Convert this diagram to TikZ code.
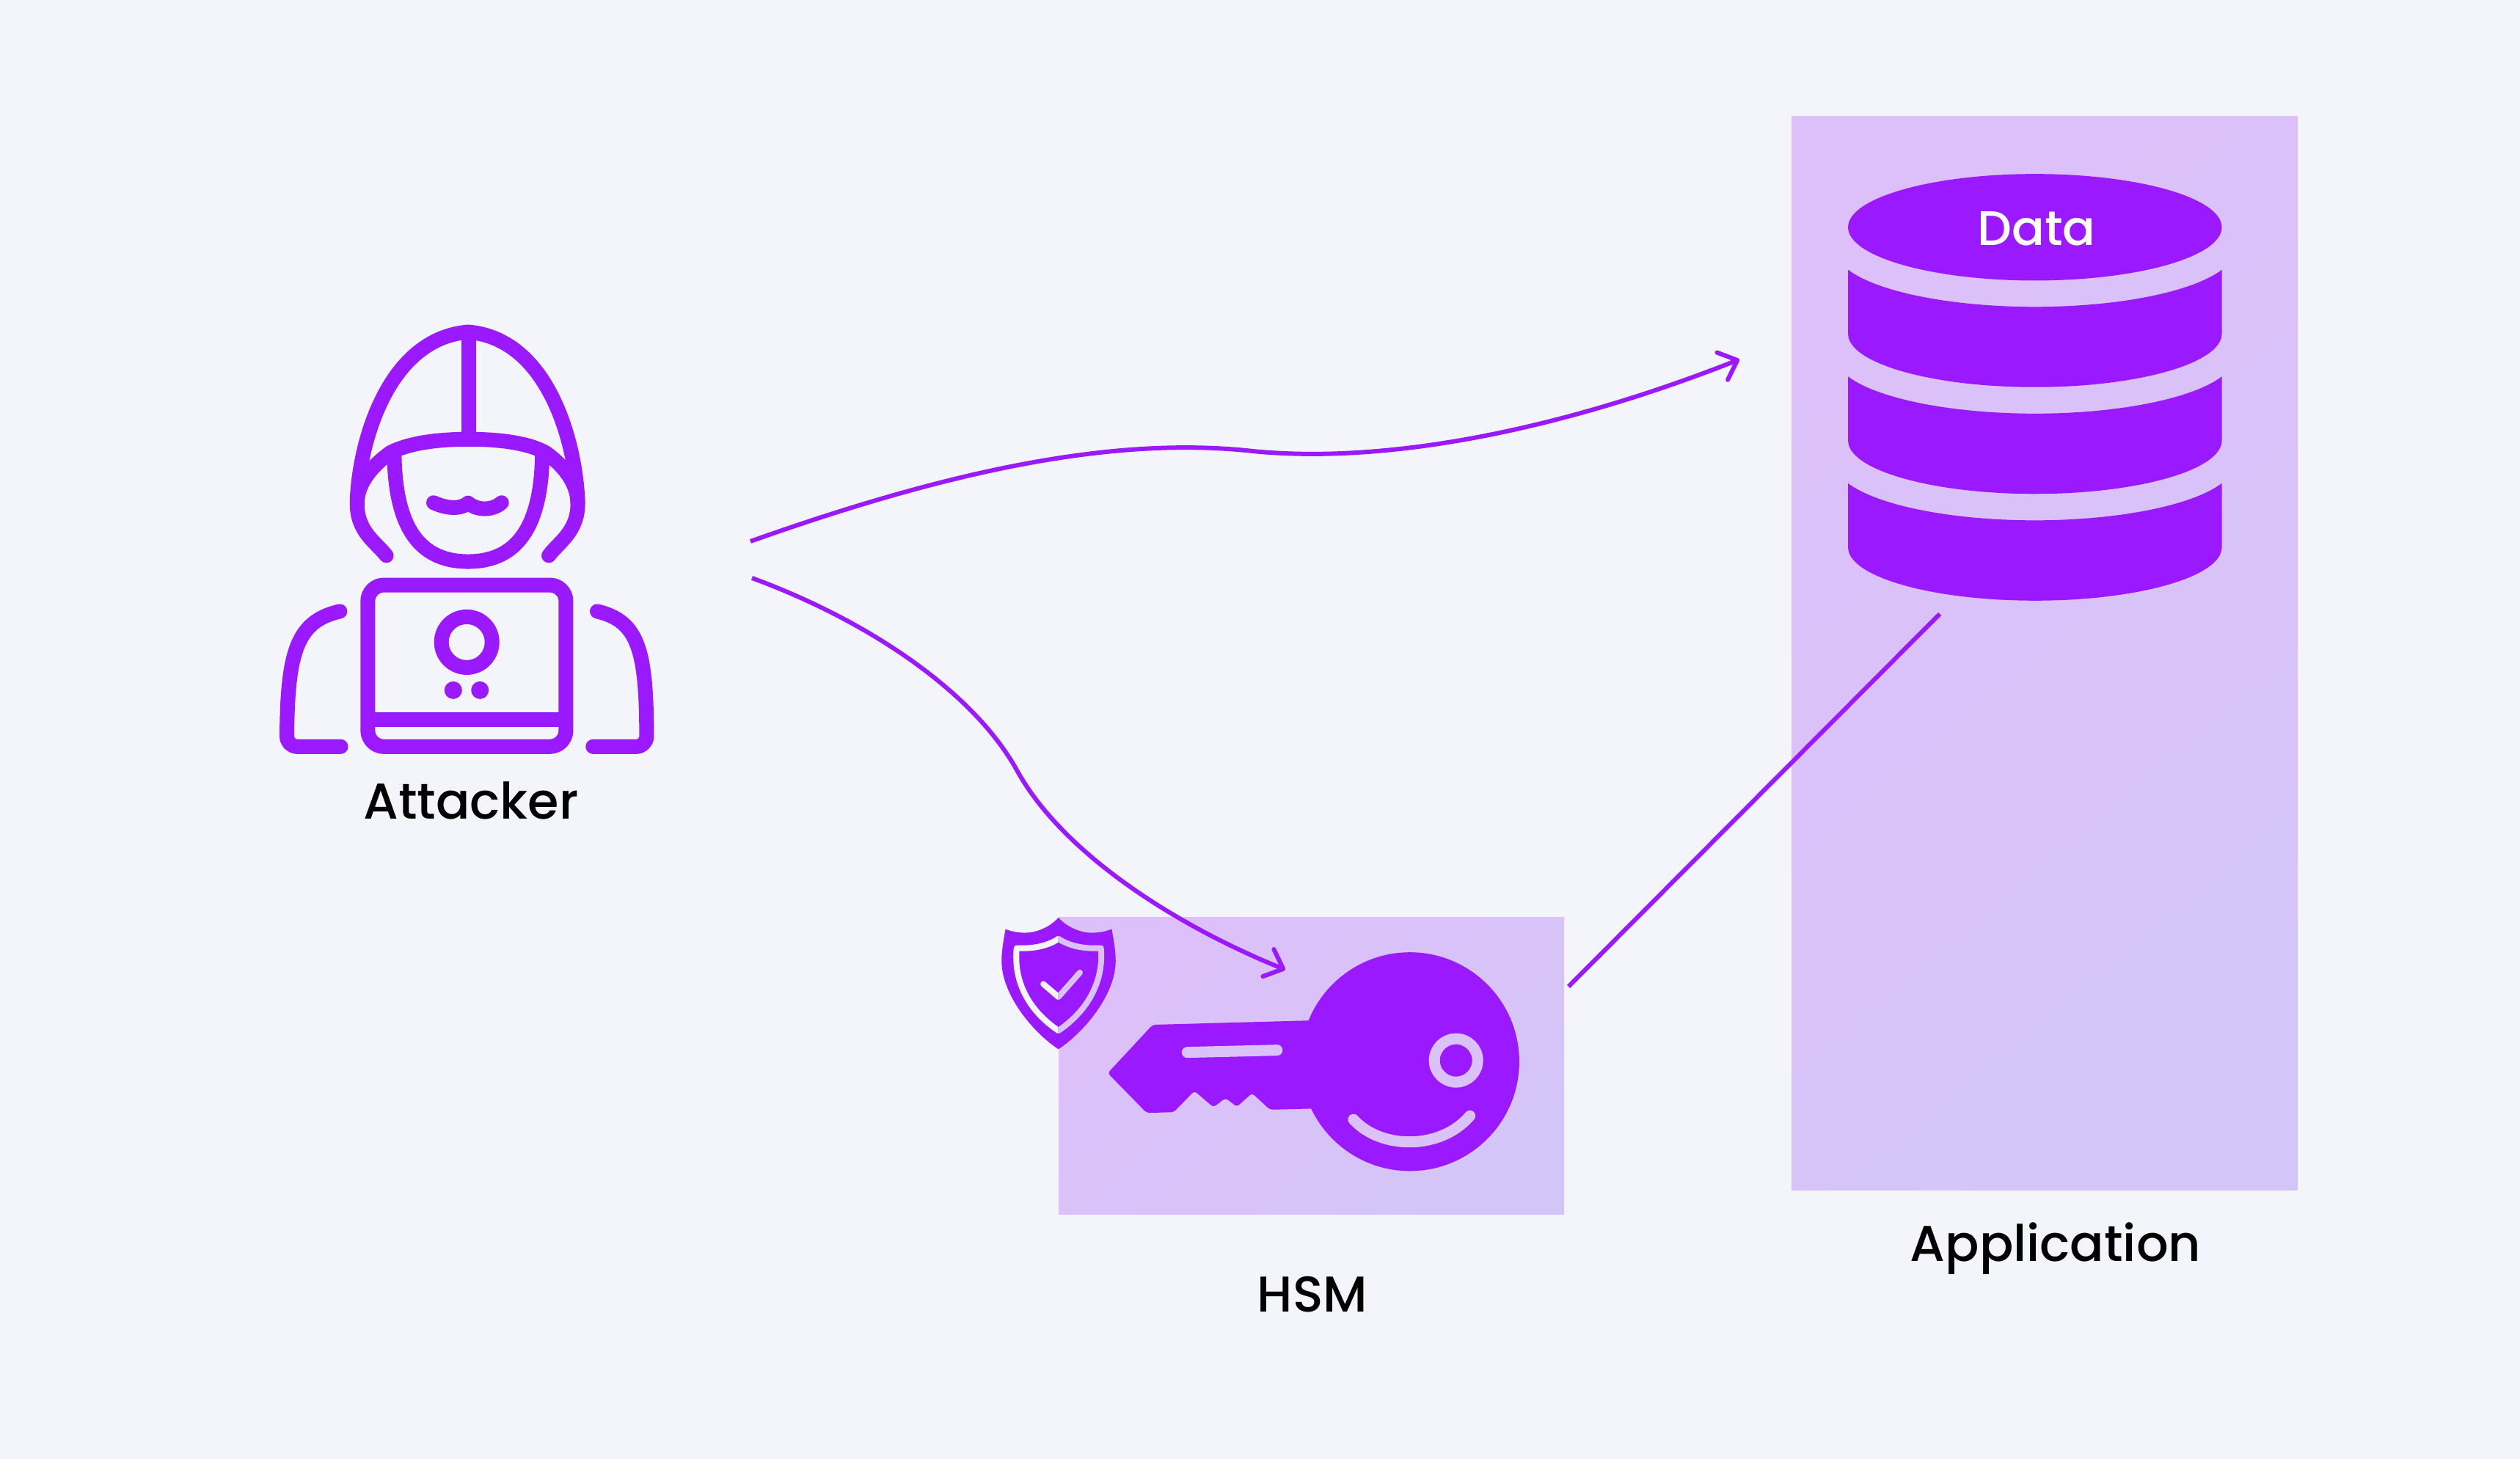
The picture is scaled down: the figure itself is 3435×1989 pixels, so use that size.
\documentclass[tikz,border=0pt]{standalone}
\usepackage{fontspec}
\setmainfont{Poppins Medium}
\usetikzlibrary{arrows.meta}
\definecolor{bgc}{RGB}{244,245,250}
\definecolor{pur}{RGB}{155,25,255}
\definecolor{liltl}{RGB}{221,192,249}
\definecolor{lilbr}{RGB}{212,197,248}
\definecolor{cutc}{RGB}{218,194,249}
\tikzset{
  icon/.style={draw=pur,line width=0.2cm,line cap=round,line join=round},
  panel/.style={top color=liltl,bottom color=lilbr,shading angle=40},
  wire/.style={draw=pur,line width=0.06cm},
  arrowed/.style={wire,-{Straight Barb[length=0.22cm,width=0.40cm,line width=0.06cm,round]}},
  label/.style={font=\fontsize{19.5pt}{22pt}\selectfont,text=black,inner sep=0pt,anchor=base},
  zoomA/.style={shift={(340,400)},x=0.003827cm,y=-0.004783cm},
  zoomB/.style={shift={(1330,1220)},x=0.005421cm,y=-0.003333cm},
  zoomC/.style={shift={(2420,140)},x=0.004719cm,y=-0.004719cm},
}
\begin{document}
\begin{tikzpicture}[x=0.01cm,y=-0.01cm]
\useasboundingbox (0,0) rectangle (3435,1989);
\fill[bgc] (0,0) rectangle (3435,1989);
% panels
\shade[panel] (2442,159) rectangle (3132,1623);
\shade[panel] (1443,1251) rectangle (2132,1656);
% attacker
\begin{scope}[zoomA]
  \draw[icon] (487,748) .. controls (450,710) and (383,680) .. (383,600)
     .. controls (385,450) and (480,130) .. (778,110)
     .. controls (1075,130) and (1165,450) .. (1168,600)
     .. controls (1168,680) and (1100,710) .. (1065,748);
  \draw[icon,line cap=butt] (779,110) -- (779,416);
  \draw[icon,line cap=butt] (383,600) .. controls (383,540) and (440,490) .. (500,455)
     .. controls (570,425) and (680,416) .. (779,416)
     .. controls (880,416) and (990,425) .. (1055,455)
     .. controls (1115,490) and (1168,540) .. (1168,600);
  \draw[icon,line cap=butt] (515,445) .. controls (515,650) and (590,765) .. (778,765)
     .. controls (965,765) and (1042,650) .. (1042,445);
  \draw[icon] (655,597) .. controls (690,610) and (745,620) .. (778,598)
     .. controls (810,620) and (865,620) .. (897,597);
  \draw[icon,rounded corners=0.22cm] (421,832) rectangle (1126,1293);
  \draw[icon,line cap=butt] (421,1215) -- (1126,1215);
  \draw[icon] (773,995) circle[radius=0.345cm];
  \fill[pur] (725,1132) circle[radius=0.12cm] (820,1132) circle[radius=0.12cm];
  \draw[icon,rounded corners=0.14cm] (322,907) .. controls (170,935) and (135,1020) .. (133,1293) -- (325,1293);
  \draw[icon,rounded corners=0.14cm] (1237,907) .. controls (1385,935) and (1412,1020) .. (1413,1293) -- (1222,1293);
\end{scope}
\node[label] (attacker) at (642,1117) {Attacker};
% database
\begin{scope}[zoomC]
  \fill[pur] (750,360) circle[x radius=540,y radius=154];
  \foreach \d in {0,308.5,617}{
    \fill[pur] (210,483+\d) .. controls (300,550+\d) and (520,590+\d) .. (750,590+\d)
       .. controls (980,590+\d) and (1200,550+\d) .. (1290,483+\d)
       -- (1290,668+\d) .. controls (1290,753+\d) and (1048,822+\d) .. (750,822+\d)
       .. controls (452,822+\d) and (210,753+\d) .. (210,668+\d) -- cycle;
  }
\end{scope}
\node[label,text=white,font=\fontsize{18.8pt}{22pt}\selectfont] (data) at (2776,335) {Data};
\node[label] (application) at (2802,1720) {Application};
% key
\begin{scope}[zoomB]
  \fill[pur] (1092,683) circle[radius=1.49cm];
  \fill[pur,rounded corners=0.04cm] (850,514) -- (445,532) -- (332,730) -- (430,893) -- (498,890) -- (550,803)
     -- (598,870) -- (628,832) -- (657,868) -- (695,812) -- (740,880) -- (860,875) -- cycle;
  \draw[cutc,line width=0.15cm,line cap=round] (532,645) -- (758,636);
  \draw[cutc,line width=0.15cm] (1208,678) circle[radius=0.295cm];
  \draw[cutc,line width=0.15cm,line cap=round] (950,920) .. controls (1020,1045) and (1170,1045) .. (1243,905);
  % shield
  \fill[pur] (208,93) .. controls (185,135) and (150,155) .. (125,155)
     .. controls (105,155) and (90,150) .. (75,140)
     .. controls (68,200) and (65,240) .. (65,270)
     .. controls (65,410) and (145,565) .. (208,632)
     .. controls (271,565) and (352,410) .. (352,270)
     .. controls (352,240) and (349,200) .. (342,140)
     .. controls (326,150) and (311,155) .. (291,155)
     .. controls (266,155) and (231,135) .. (208,93) -- cycle;
  \foreach \sideclip/\col in {0/bgc,1/cutc}{
    \begin{scope}
      \ifnum\sideclip=0 \clip (0,0) rectangle (208,700); \else \clip (208,0) rectangle (500,700); \fi
      \draw[\col,line width=0.08cm,line join=round] (103,218) .. controls (150,222) and (185,205) .. (208,180)
         .. controls (232,205) and (265,222) .. (315,218)
         .. controls (322,350) and (285,470) .. (208,556)
         .. controls (130,470) and (95,350) .. (103,218) -- cycle;
      \draw[\col,line width=0.08cm,line join=round,line cap=round] (170,365) -- (208,418) -- (262,318);
    \end{scope}
  }
\end{scope}
\node[label] (hsm) at (1789,1788) {HSM};
% connectors
\coordinate (a1s) at (1023,738);
\coordinate (a1m) at (1698,614);
\coordinate (a1e) at (2371,490);
\coordinate (a2s) at (1025,788);
\coordinate (a2m) at (1385,1048);
\coordinate (a2e) at (1752,1322);
\coordinate (l3s) at (2138,1345);
\coordinate (l3e) at (2644,837);
\draw[arrowed] (a1s) .. controls (1293,642) and (1512,596) .. (a1m)
   .. controls (1884,635) and (2125,587) .. (a1e);
\draw[arrowed] (a2s) .. controls (1183,846) and (1325,942) .. (a2m)
   .. controls (1446,1161) and (1599,1260) .. (a2e);
\draw[wire] (l3s) -- (l3e);
\end{tikzpicture}
\end{document}
